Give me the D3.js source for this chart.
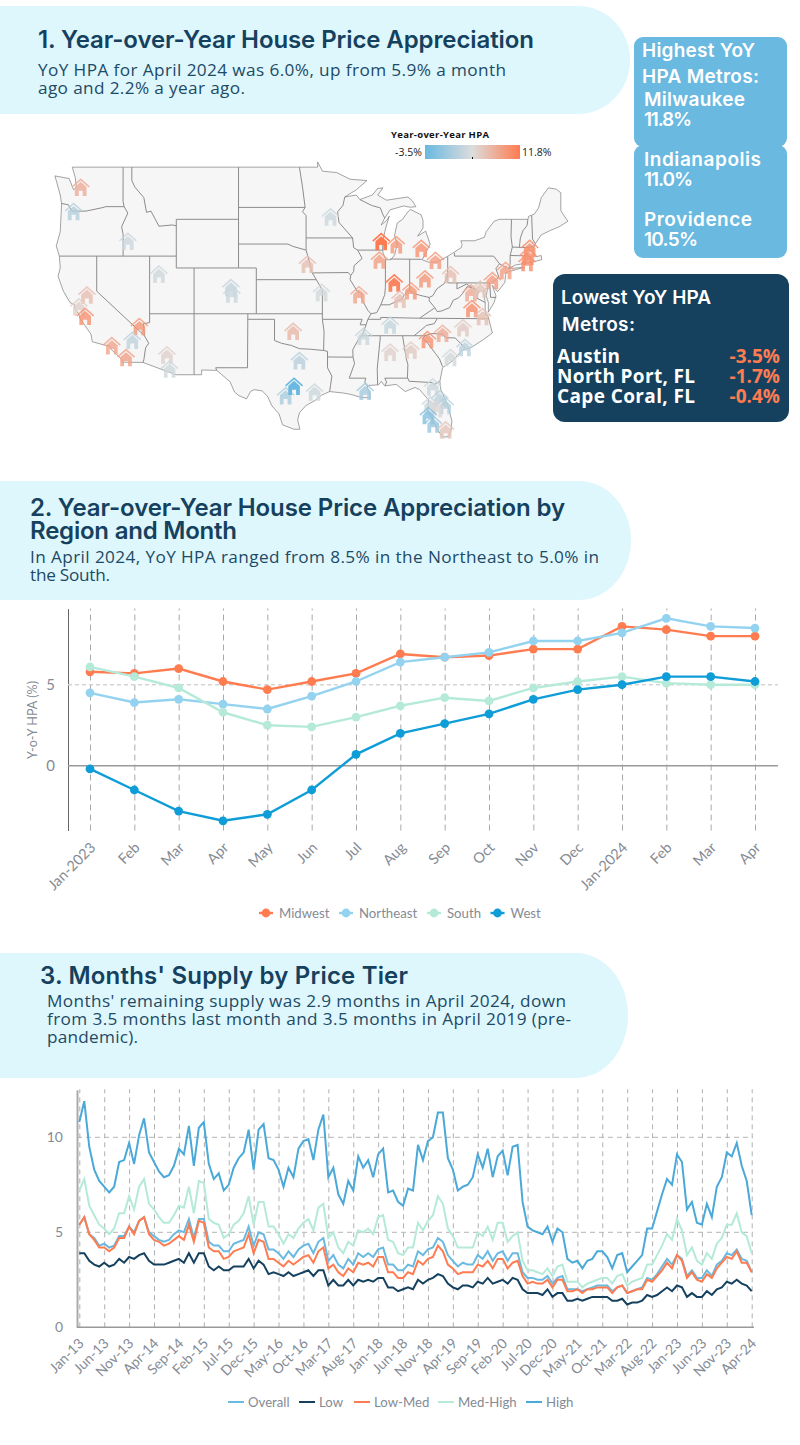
<!DOCTYPE html>
<html>
<head>
<meta charset="utf-8">
<script src="https://cdn.jsdelivr.net/npm/d3@7"></script>
<style>
  body { margin: 0; background: #fff; }
  svg { display: block; }
  .sans { font-family: 'Open Sans', sans-serif; }
  .head { font-family: Inter, sans-serif; font-weight: 600; fill: #15415e; }
  .chart text { font-family: Lato, sans-serif; fill: #858b95; }
</style>
</head>
<body>
<div id="container"></div>
<script>
// MAP DATA (lon/lat)
const metroLon = [-121.8,-122.6,-116.5,-113.0,-104.9,-104.8,-121.1,-122.0,-121.3,-115.2,-116.0,-118.3,-116.7,-112.1,-111.8,-97.9,-97.2,-98.75,-97.8,-96.3,-95.5,-93.7,-94.7,-90.5,-88.0,-86.3,-88.2,-83.5,-81.9,-86.53,-84.66,-83.08,-85.9,-80.2,-74.0,-71.3,-71.5,-71.6,-75.5,-77.9,-76.85,-77.8,-76.6,-78.8,-81.1,-82.8,-78.58,-80.2,-87.0,-90.0,-87.0,-84.66,-89.8,-82.2,-81.4,-80.8,-82.5,-81.8,-82.7,-82.15,-80.75];
const metroLat = [47.48,45.61,43.21,40.46,39.3,38.74,38.65,37.6,36.76,35.84,34.57,34.07,32.95,33.2,31.86,35.4,32.66,29.28,30.2,41.31,29.64,45.18,38.88,38.68,43.19,42.94,41.66,42.63,41.63,39.71,39.03,40.06,38.29,40.43,40.78,42.63,41.97,41.46,39.91,38.85,39.18,37.45,36.73,35.71,35.22,34.63,33.9,32.95,35.96,34.94,33.46,33.65,29.71,30.14,28.98,28.32,28.35,27.98,27.32,26.47,25.87];
const metroHpa = [8,1.5,3,3.2,2.6,3,6.5,5.2,10,9.7,2.2,8.5,8.8,5,3.2,7,1.8,0.8,-3.5,6.5,3,3,3.5,8.5,11.8,9.5,9,10,9.3,11,9.7,9.5,6.5,6.5,9,10.5,10,10.2,9.3,8,6,10.2,6.5,5.5,8,10,2,3.5,2.5,3,5,5.5,0.5,3,2,1.5,3,4.5,-1.7,-0.4,6];

const usOutline = [[-124.7,48.35],[-123.1,48.15],[-122.6,47.3],[-122.3,47.5],[-122.4,48.2],[-122.75,49],[-95.15,49],[-95.15,49.38],[-94.6,48.7],[-93,48.6],[-91.5,48.1],[-89.6,48],[-90.8,47.3],[-92.1,46.75],[-90.8,46.9],[-90.4,46.55],[-89,46.9],[-88.4,47.4],[-87.8,47.45],[-88.4,46.9],[-87.4,46.5],[-85,46.75],[-84.5,46.45],[-84.1,46],[-84.7,45.95],[-85.5,46.05],[-86.5,45.85],[-87,45.75],[-87.6,45.1],[-88,44.55],[-87.4,44.9],[-87.1,45.25],[-87.5,44.3],[-87.9,43],[-87.8,42.3],[-87.5,41.7],[-86.9,41.7],[-86.5,42.1],[-86.2,43],[-86.5,43.7],[-86.2,44.7],[-85.6,45],[-85,45.6],[-84.7,45.78],[-83.5,45.35],[-83.3,44.9],[-83.3,44.3],[-83.9,43.65],[-83,44.05],[-82.5,43],[-82.9,42.4],[-83.15,42],[-83.4,41.7],[-82.7,41.5],[-81.7,41.5],[-80.5,42],[-79,42.7],[-78.9,42.95],[-79.05,43.27],[-77.5,43.27],[-76.4,43.55],[-76.2,44],[-75.3,44.85],[-74.7,45],[-71.5,45],[-71.4,45.25],[-70.8,45.4],[-70.3,45.9],[-70,46.7],[-69.2,47.45],[-68.3,47.35],[-67.8,47.07],[-67.8,45.7],[-67.45,45.3],[-67,44.85],[-68,44.4],[-69,44.1],[-70,43.75],[-70.6,43.1],[-70.8,42.8],[-71,42.3],[-70.6,41.95],[-70,42.05],[-69.95,41.7],[-70.7,41.55],[-71.4,41.45],[-72.9,41.25],[-73.7,40.95],[-72,41.05],[-74,40.6],[-74,40.45],[-74.1,39.75],[-74.9,38.95],[-75.5,39.5],[-75.1,38.6],[-75.3,38],[-75.95,37.15],[-75.95,38],[-76.2,38.6],[-76,39.4],[-76.5,39],[-76.3,38],[-76.3,37],[-76,36.85],[-75.5,35.25],[-76.5,34.65],[-77.9,33.9],[-78.9,33.65],[-79.9,32.7],[-81.1,32],[-81.4,30.7],[-81.3,29.9],[-80.55,28.45],[-80.05,26.8],[-80.15,25.75],[-80.4,25.2],[-81.1,25.15],[-81.8,26.1],[-82.2,26.9],[-82.75,27.8],[-82.7,28.9],[-83.7,29.9],[-84.2,30.1],[-85.3,29.7],[-86.3,30.4],[-87.6,30.25],[-88,30.7],[-88.3,30.35],[-89.4,30.3],[-89.6,30.15],[-89.4,29.8],[-89.2,29.1],[-90.2,29.1],[-91.3,29.4],[-92.2,29.55],[-93.8,29.7],[-94.7,29.35],[-95.3,28.9],[-96.5,28.3],[-97.2,27.6],[-97.4,26.9],[-97.15,25.95],[-97.8,25.95],[-99.1,26.4],[-99.5,27.5],[-100.3,28.3],[-100.8,29.25],[-101.4,29.77],[-102.3,29.88],[-102.7,29.7],[-103.15,28.98],[-104,29.3],[-104.5,29.65],[-105,30.65],[-106.5,31.75],[-108.2,31.78],[-108.2,31.33],[-111.07,31.33],[-114.8,32.5],[-117.12,32.53],[-117.25,32.85],[-118.4,33.75],[-118.5,34.03],[-119.2,34.15],[-120.5,34.45],[-120.65,35.15],[-121.9,36.6],[-122,36.95],[-122.5,37.5],[-122.5,37.8],[-123,38],[-123.75,39],[-124.35,40.3],[-124.1,41],[-124.2,42],[-124.55,42.85],[-124.1,44],[-123.95,46.2],[-124.1,46.9]];

const stateBorders = [
  [[-124,46.25],[-123.2,46.15],[-122.8,45.65],[-121.2,45.65],[-119.3,45.93],[-118.98,46],[-116.92,46]],
  [[-117.03,49],[-117.04,46.42],[-116.92,46],[-116.5,45.5],[-117.2,44.4],[-117.03,43.8],[-117.03,42]],
  [[-124.2,42],[-111.05,42]],
  [[-116.05,49],[-116.05,48],[-115.7,47.5],[-114.7,46.7],[-114.4,45.55],[-113.9,45.65],[-113.45,45.05],[-113,44.45],[-111.5,44.55],[-111.05,44.48]],
  [[-111.05,45],[-111.05,41],[-104.05,41],[-104.05,49]],
  [[-111.05,45],[-104.05,45]],
  [[-114.05,42],[-114.05,36.2],[-114.75,36.1],[-114.63,35],[-114.15,34.3],[-114.5,33.9],[-114.7,32.75],[-114.8,32.5]],
  [[-120,42],[-120,39],[-114.63,35]],
  [[-114.05,37],[-94.62,37]],
  [[-109.05,41],[-109.05,31.33]],
  [[-102.05,41],[-102.05,37]],
  [[-104.05,41],[-102.05,41]],
  [[-104.05,43],[-98.5,43],[-97.9,42.8],[-96.45,42.5],[-96.1,41.6],[-95.85,40.7],[-95.3,40],[-94.62,39.1],[-94.62,36.5],[-94.43,35.4],[-94.48,33.63],[-94.04,33.55],[-94.04,31.99],[-93.55,31.2],[-93.7,30.3],[-93.8,29.7]],
  [[-104.05,45.94],[-96.56,45.94]],
  [[-102.05,40],[-95.3,40]],
  [[-103,37],[-103.04,32],[-106.62,32],[-106.5,31.75]],
  [[-103.04,36.5],[-100,36.5],[-100,34.56],[-99.2,34.3],[-98.1,34.1],[-97.2,33.8],[-96,33.75],[-94.48,33.63]],
  [[-94.04,33.02],[-91.17,33]],
  [[-94.62,36.5],[-90.15,36.5],[-90.37,36],[-89.7,36]],
  [[-95.77,40.58],[-91.73,40.61],[-91.42,40.38]],
  [[-97.2,49],[-96.85,47.5],[-96.56,45.94],[-96.85,45.6],[-96.45,45.3],[-96.45,42.5]],
  [[-96.45,43.5],[-91.22,43.5]],
  [[-92.1,46.75],[-92.3,46.1],[-92.9,45.6],[-92.75,44.75],[-91.22,43.5],[-91.1,42.7],[-90.65,42.5],[-90.15,41.8],[-91.05,41.2],[-91.1,40.7],[-91.42,40.38],[-91.5,40],[-90.7,39],[-90.15,38.75],[-90.2,38.3],[-89.5,37.3],[-89.15,37],[-89.5,36.5],[-89.7,36],[-90.1,35.1],[-90.6,34.6],[-91.2,33.7],[-91.17,33],[-91,32.4],[-91.6,31],[-89.73,31],[-89.85,30.65],[-89.55,30.2]],
  [[-90.65,42.5],[-87.8,42.5]],
  [[-90.4,46.55],[-89.1,46.1],[-88.1,45.9],[-87.8,45.35],[-87.6,45.1]],
  [[-87.53,41.7],[-87.53,39.35],[-87.6,38.7],[-88.05,37.8]],
  [[-89.15,37],[-88.5,37.1],[-88.05,37.8],[-87.1,37.8],[-86.3,38.1],[-85.7,38.3],[-85.4,38.7],[-84.8,39.1],[-84.3,38.8],[-83.7,38.65],[-82.6,38.45],[-82.2,38.6],[-81.75,39.2],[-80.85,39.7],[-80.52,40.64],[-80.52,41.98]],
  [[-84.8,39.1],[-84.8,41.76]],
  [[-87,41.76],[-83.45,41.73]],
  [[-79.76,42.27],[-79.76,42],[-75.35,42],[-74.7,41.36],[-75.1,40.95],[-74.75,40.2],[-75.45,39.8]],
  [[-74.7,41.36],[-73.9,41]],
  [[-80.52,40.64],[-80.52,39.72],[-75.79,39.72],[-75.7,38.46],[-75.05,38.45]],
  [[-79.48,39.72],[-79.48,39.2],[-78.4,39.62],[-77.75,39.3],[-77.1,38.9],[-77.25,38.4],[-76.3,38]],
  [[-82.6,38.45],[-82.6,38.15],[-81.97,37.54],[-81.7,37.2],[-81.2,37.25],[-80.3,37.55],[-79.9,38.2],[-79.3,38.42],[-78.87,38.77],[-78.35,39.4],[-77.75,39.3]],
  [[-81.97,37.54],[-83.68,36.6]],
  [[-89.5,36.5],[-88.05,36.5],[-88.05,36.67],[-83.68,36.6],[-81.68,36.59],[-75.87,36.55]],
  [[-81.68,36.59],[-82.05,36.1],[-82.9,35.95],[-84.3,35]],
  [[-90.3,35],[-83.1,35]],
  [[-83.1,35],[-82.3,35.2],[-81.05,35.15],[-80.8,34.82],[-79.68,34.8],[-78.55,33.85]],
  [[-83.1,35],[-83.35,34.7],[-82.9,34.45],[-81.9,33.35],[-81.45,32.85],[-81.1,32.1]],
  [[-85.6,35],[-85.18,32.85],[-85,32.3],[-85.05,31]],
  [[-88.2,35],[-88.1,34.9],[-88.45,31.9],[-88.4,30.35]],
  [[-87.55,30.28],[-87.4,30.65],[-87.6,31],[-85,31],[-84.86,30.7],[-82.2,30.57],[-82.05,30.36],[-81.45,30.7]],
  [[-73.35,45],[-73.4,43.6],[-73.25,42.75],[-73.5,42.05],[-73.5,41.3],[-73.65,41]],
  [[-71.5,45],[-71.6,44.5],[-72.05,44.1],[-72.35,43.5],[-72.46,42.73]],
  [[-73.27,42.75],[-71.3,42.7],[-70.8,42.87]],
  [[-73.5,42.05],[-71.38,42.02],[-71.12,41.5]],
  [[-71.8,42.02],[-71.85,41.32]],
  [[-71.08,45.3],[-70.98,43.4],[-70.7,43.08]]
];

// REGION DATA
const regionMonths = ['Jan-2023','Feb','Mar','Apr','May','Jun','Jul','Aug','Sep','Oct','Nov','Dec','Jan-2024','Feb','Mar','Apr'];
const midwest = [5.8,5.7,6.0,5.2,4.7,5.2,5.7,6.9,6.7,6.8,7.2,7.2,8.6,8.4,8.0,8.0];
const northeast = [4.5,3.9,4.1,3.8,3.5,4.3,5.2,6.4,6.7,7.0,7.7,7.7,8.2,9.1,8.6,8.5];
const south = [6.1,5.5,4.8,3.3,2.5,2.4,3.0,3.7,4.2,4.0,4.8,5.2,5.5,5.1,5.0,5.0];
const west = [-0.2,-1.5,-2.8,-3.4,-3.0,-1.5,0.7,2.0,2.6,3.2,4.1,4.7,5.0,5.5,5.5,5.2];

// MONTHS' SUPPLY DATA
const supplyTicks = ['Jan-13','Jun-13','Nov-13','Apr-14','Sep-14','Feb-15','Jul-15','Dec-15','May-16','Oct-16','Mar-17','Aug-17','Jan-18','Jun-18','Nov-18','Apr-19','Sep-19','Feb-20','Jul-20','Dec-20','May-21','Oct-21','Mar-22','Aug-22','Jan-23','Jun-23','Nov-23','Apr-24'];
const overall = [5.4,5.8,4.9,4.7,4.3,4.4,4.2,4.3,4.8,4.8,5.3,5.0,5.6,5.8,5.0,4.8,4.6,4.5,4.6,4.9,5.1,5.0,5.7,4.7,5.7,5.7,4.5,4.3,4.3,4.0,4.0,4.4,4.5,4.6,5.3,4.3,5.0,4.9,4.1,4.1,3.9,3.6,4.0,3.7,4.1,4.3,4.4,3.9,4.5,4.7,3.5,3.8,3.3,3.1,3.6,3.3,3.9,3.7,3.9,3.7,4.1,4.2,3.3,3.3,3.0,3.0,3.3,3.2,4.0,3.8,4.1,4.2,4.7,4.5,3.8,3.5,3.2,3.4,3.3,3.3,3.8,3.6,4.0,3.5,3.9,4.0,3.5,3.9,3.9,2.9,2.6,2.6,2.5,2.5,2.7,2.3,2.6,2.7,2.0,2.0,2.0,1.9,2.0,2.1,2.2,2.2,2.2,1.9,2.1,2.2,1.8,1.9,2.0,2.1,2.6,2.5,2.8,3.2,3.6,3.3,3.8,3.6,2.7,3.0,2.6,2.6,3.0,2.7,3.3,3.5,3.9,3.8,4.1,3.6,3.5,2.9];
const low = [3.9,3.9,3.5,3.3,3.2,3.4,3.2,3.3,3.6,3.4,3.7,3.6,3.8,3.9,3.5,3.3,3.3,3.3,3.4,3.5,3.6,3.4,3.9,3.4,3.9,3.9,3.2,3.0,3.2,3.0,3.0,3.2,3.2,3.2,3.6,3.1,3.5,3.3,2.8,2.9,2.8,2.7,2.9,2.7,2.8,2.9,3.0,2.7,3.0,3.0,2.2,2.5,2.2,2.2,2.5,2.2,2.5,2.4,2.5,2.4,2.6,2.6,2.1,2.1,1.9,2.0,2.1,2.0,2.5,2.3,2.5,2.6,2.8,2.7,2.3,2.1,2.0,2.2,2.2,2.1,2.4,2.3,2.6,2.3,2.4,2.5,2.3,2.6,2.5,2.0,1.8,1.8,1.8,1.7,2.0,1.6,1.8,1.8,1.4,1.4,1.5,1.4,1.5,1.6,1.6,1.6,1.6,1.4,1.4,1.5,1.2,1.3,1.3,1.4,1.7,1.6,1.7,1.9,2.1,1.9,2.2,2.1,1.6,1.8,1.6,1.6,1.9,1.7,2.0,2.1,2.4,2.3,2.5,2.3,2.2,1.9];
const lowMed = [5.4,5.8,4.9,4.6,4.2,4.2,4.0,4.2,4.7,4.7,5.3,4.9,5.6,5.8,4.9,4.6,4.5,4.3,4.4,4.6,4.8,4.6,5.4,4.5,5.6,5.5,4.2,4.0,4.0,3.6,3.7,4.0,4.1,4.2,4.9,3.9,4.6,4.5,3.6,3.6,3.4,3.2,3.5,3.3,3.5,3.7,3.8,3.4,4.0,4.2,3.1,3.3,2.9,2.7,3.1,2.9,3.4,3.3,3.4,3.2,3.7,3.7,2.9,2.9,2.6,2.6,2.9,2.8,3.5,3.3,3.6,3.7,4.3,4.0,3.3,3.1,2.8,2.9,2.9,2.9,3.3,3.2,3.5,3.1,3.6,3.6,3.1,3.4,3.5,2.7,2.3,2.4,2.3,2.3,2.5,2.1,2.5,2.5,1.9,1.9,2.0,1.8,2.0,2.0,2.1,2.1,2.1,1.8,2.1,2.2,1.8,1.9,2.0,2.0,2.5,2.4,2.7,3.0,3.4,3.1,3.8,3.5,2.6,2.9,2.5,2.4,2.8,2.6,3.1,3.4,3.7,3.6,4.0,3.4,3.4,2.9];
const medHigh = [7.2,7.8,6.4,5.9,5.4,5.2,4.9,5.2,6.0,6.0,6.9,6.2,7.4,7.8,6.5,6.2,5.8,5.5,5.5,5.9,6.4,6.3,7.4,6.0,7.7,7.6,5.7,5.5,5.4,4.7,4.9,5.4,5.6,6.0,6.9,5.4,6.6,6.6,5.3,5.3,4.9,4.4,4.9,4.7,5.2,5.5,5.7,5.1,6.3,6.5,4.7,5.0,4.2,3.9,4.5,4.3,5.1,5.0,5.2,4.9,5.8,5.9,4.6,4.5,3.9,3.8,4.2,4.2,5.5,5.1,5.6,5.9,6.9,6.5,5.2,4.8,4.2,4.2,4.2,4.2,5.0,4.8,5.3,4.6,5.5,5.5,4.5,4.8,5.0,3.5,3.0,3.0,2.9,2.8,3.1,2.7,3.2,3.3,2.4,2.4,2.4,2.1,2.3,2.4,2.5,2.6,2.6,2.3,2.7,2.8,2.2,2.4,2.5,2.6,3.3,3.3,3.8,4.3,4.9,4.6,5.7,5.1,3.8,4.2,3.5,3.3,3.9,3.6,4.4,4.7,5.4,5.4,6.0,5.0,4.8,3.9];
const high = [10.8,11.9,9.5,8.3,7.7,7.4,7.1,7.4,8.7,8.8,9.7,8.6,10.1,11.0,9.2,8.7,8.2,7.9,8.0,8.5,9.4,9.1,10.6,8.5,10.5,10.8,8.6,7.8,8.1,7.2,7.5,8.4,8.9,9.2,10.4,8.3,10.4,10.7,8.9,8.8,8.3,7.4,8.4,7.9,9.4,9.8,9.9,8.8,10.4,11.2,7.9,8.4,7.0,6.5,7.7,7.2,9.0,8.4,8.8,7.9,9.1,9.4,7.1,7.2,6.6,6.4,7.3,7.2,9.6,8.8,9.8,10.0,11.3,11.3,8.9,8.3,7.2,7.4,7.5,7.9,9.1,8.4,9.4,7.9,9.0,9.3,8.0,9.5,9.6,6.6,5.3,5.1,5.0,4.9,5.3,4.5,5.2,5.0,3.6,3.4,3.5,3.1,3.5,3.6,4.0,4.0,3.7,3.1,3.8,3.9,2.9,3.2,3.5,3.8,5.2,5.2,6.1,7.0,7.8,7.5,9.1,8.7,6.2,6.6,5.5,5.4,6.5,5.8,7.4,7.9,9.2,9.0,9.7,8.5,7.7,5.9];

const orange = '#ff7b50';
const navy = '#15415e';
const skyBlue = '#69b9e0';

const svg = d3
  .select('#container')
  .append('svg')
  .attr('width', 800)
  .attr('height', 1445);

// text helper, textLength keeps the widths of the headings
const label = (str, x, y, cls, size, width) => {
  const t = svg
    .append('text')
    .attr('class', cls)
    .attr('x', x)
    .attr('y', y)
    .style('font-size', `${size}px`)
    .text(str);
  if (width) t.attr('textLength', width);
  return t;
};

// HEADING BANNERS
const banner = (y0, y1, right) => {
  const ry = (y1 - y0) / 2;
  svg
    .append('path')
    .attr('d', `M0,${y0}H${right - 52}A52,${ry} 0 0 1 ${right - 52},${y1}H0Z`)
    .attr('fill', '#def7fd');
};
banner(6, 114, 630);
banner(481, 600, 631);
banner(953, 1078, 628);

label('1. Year-over-Year House Price Appreciation', 38, 48, 'head', 24, 496);
label('YoY HPA for April 2024 was 6.0%, up from 5.9% a month', 38, 76, 'sans', 17.2, 468).attr('fill', '#1d4a65');
label('ago and 2.2% a year ago.', 38, 94, 'sans', 17.2, 207).attr('fill', '#1d4a65');

label('2. Year-over-Year House Price Appreciation by', 30, 516, 'head', 24, 535);
label('Region and Month', 30, 539, 'head', 24, 207);
label('In April 2024, YoY HPA ranged from 8.5% in the Northeast to 5.0% in', 30, 563, 'sans', 17.2, 569).attr('fill', '#1d4a65');
label('the South.', 30, 581, 'sans', 17.2, 80).attr('fill', '#1d4a65');

label("3. Months' Supply by Price Tier", 40, 984, 'head', 24, 368);
label("Months' remaining supply was 2.9 months in April 2024, down", 47, 1007, 'sans', 17.2, 519).attr('fill', '#1d4a65');
label('from 3.5 months last month and 3.5 months in April 2019 (pre-', 47, 1025, 'sans', 17.2, 524).attr('fill', '#1d4a65');
label('pandemic).', 47, 1043, 'sans', 17.2, 91).attr('fill', '#1d4a65');

// SIDE PANELS
svg.append('rect').attr('x', 634).attr('y', 37).attr('width', 153).attr('height', 110).attr('rx', 9).attr('fill', skyBlue);
svg.append('rect').attr('x', 634).attr('y', 145).attr('width', 153).attr('height', 113).attr('rx', 9).attr('fill', skyBlue);
svg.append('rect').attr('x', 553).attr('y', 274).attr('width', 236).attr('height', 148).attr('rx', 12).attr('fill', navy);

const topMetroLines = [
  ['Highest YoY', 642, 57, 113], ['HPA Metros:', 642, 83, 117], ['Milwaukee', 644, 106, 101], ['11.8%', 644, 126, 48],
  ['Indianapolis', 644, 166, 117], ['11.0%', 644, 186, 49], ['Providence', 644, 226, 108], ['10.5%', 644, 246, 54]
];
topMetroLines.forEach(d => {
  label(d[0], d[1], d[2], 'head', 19, d[3]).style('fill', '#fff');
});

label('Lowest YoY HPA', 561, 304, 'head', 19, 150).style('fill', '#fff');
label('Metros:', 562, 331, 'head', 19, 73).style('fill', '#fff');

const lowNames = ['Austin', 'North Port, FL', 'Cape Coral, FL'];
const lowWidths = [63, 138, 138];
const lowValues = ['-3.5%', '-1.7%', '-0.4%'];
lowNames.forEach((n, i) => {
  label(n, 557, 363 + i * 20, 'sans', 19, lowWidths[i]).attr('fill', '#fff').style('font-weight', 700);
  label(lowValues[i], 780, 363 + i * 20, 'sans', 19)
    .attr('fill', orange)
    .attr('text-anchor', 'end')
    .style('font-weight', 700);
});

// MAP
const projection = d3.geoMercator().scale(509.4).translate([1163.6, 668.3]);
const mapLine = d3
  .line()
  .x(d => projection(d)[0])
  .y(d => projection(d)[1]);

svg
  .append('path')
  .attr('d', `${mapLine(usOutline)}Z`)
  .attr('fill', '#f6f6f6')
  .attr('stroke', '#7d7d7d')
  .attr('stroke-width', 0.7)
  .attr('stroke-linejoin', 'round');

svg
  .append('g')
  .selectAll('path')
  .data(stateBorders)
  .enter()
  .append('path')
  .attr('d', mapLine)
  .attr('fill', 'none')
  .attr('stroke', '#8c8c8c')
  .attr('stroke-width', 1);

const hpaColor = d3
  .scaleLinear()
  .domain([-3.5, 4.15, 11.8])
  .range([skyBlue, '#dcdcdc', orange]);

const housePath =
  'M0,-9.2L9,-1.2L8,0L0,-7L-8,0L-9,-1.2Z M0,-5.6L5.8,-0.5V8.6H2V3.2H-2V8.6H-5.8V-0.5Z';

svg
  .append('g')
  .selectAll('path')
  .data(metroHpa)
  .enter()
  .append('path')
  .attr('d', housePath)
  .attr('transform', (d, i) => {
    const p = projection([metroLon[i], metroLat[i]]);
    return `translate(${p[0]},${p[1]})`;
  })
  .attr('fill', d => hpaColor(d))
  .attr('opacity', d => (d >= 10.9 || d <= -3 ? 1 : 0.8));

// map legend
const gradient = svg
  .append('defs')
  .append('linearGradient')
  .attr('id', 'hpa-gradient');
hpaColor.domain().forEach((d, i) => {
  gradient
    .append('stop')
    .attr('offset', `${i * 50}%`)
    .attr('stop-color', hpaColor(d));
});
svg.append('rect').attr('x', 425).attr('y', 145).attr('width', 95).attr('height', 14).attr('fill', 'url(#hpa-gradient)');
svg.append('line').attr('x1', 472.5).attr('x2', 472.5).attr('y1', 157).attr('y2', 159).attr('stroke', '#111');
label('Year-over-Year HPA', 391, 138, 'sans', 9.5, 98).attr('fill', '#111').style('font-weight', 700);
label('-3.5%', 395, 156, 'sans', 10.5).attr('fill', '#222');
label('11.8%', 522, 156, 'sans', 10.5).attr('fill', '#222');

// REGION CHART
const regionNames = ['Midwest', 'Northeast', 'South', 'West'];
const regionSeries = [midwest, northeast, south, west];
const regionColors = [orange, '#94d3ef', '#b5ead9', '#0f9dd7'];

const x2 = d3.scalePoint().domain(d3.range(regionMonths.length)).range([90, 755]);
const y2 = d3.scaleLinear().domain([-4, 9.7]).range([830.5, 608.6]);

const chart2 = svg.append('g').attr('class', 'chart');

const xAxis2 = d3
  .axisBottom(x2)
  .tickSize(-222)
  .tickPadding(0)
  .tickFormat(i => regionMonths[i]);

chart2
  .append('g')
  .attr('transform', 'translate(0, 830.5)')
  .call(xAxis2)
  .call(g => g.select('.domain').remove())
  .call(g =>
    g
      .selectAll('.tick line')
      .attr('stroke', '#a9a9a9')
      .attr('stroke-dasharray', '6 4')
  )
  .call(g =>
    g
      .selectAll('.tick text')
      .attr('y', 0)
      .attr('dy', 0)
      .attr('transform', 'translate(6, 18) rotate(-45)')
      .style('text-anchor', 'end')
      .style('font-size', '14.5px')
  );

const yAxis2 = d3.axisLeft(y2).tickValues([0, 5]).tickSize(0).tickPadding(13).tickFormat(d3.format('d'));

chart2
  .append('g')
  .attr('transform', 'translate(68, 0)')
  .call(yAxis2)
  .call(g => g.select('.domain').attr('stroke', '#666'))
  .call(g => g.selectAll('.tick text').style('font-size', '15px'));

chart2
  .append('line')
  .attr('x1', 68)
  .attr('x2', 778)
  .attr('y1', y2(5))
  .attr('y2', y2(5))
  .attr('stroke', '#d4d4d4')
  .attr('stroke-width', 1.6)
  .attr('stroke-dasharray', '4 3');

chart2
  .append('line')
  .attr('x1', 68)
  .attr('x2', 778)
  .attr('y1', y2(0))
  .attr('y2', y2(0))
  .attr('stroke', '#9a9a9a')
  .attr('stroke-width', 1.6);

chart2
  .append('text')
  .attr('transform', 'translate(37, 720) rotate(-90)')
  .attr('text-anchor', 'middle')
  .attr('textLength', 78)
  .style('font-size', '12.5px')
  .text('Y-o-Y HPA (%)');

const line2 = d3
  .line()
  .x((d, i) => x2(i))
  .y(d => y2(d));

regionSeries.forEach((values, s) => {
  chart2
    .append('path')
    .attr('d', line2(values))
    .attr('fill', 'none')
    .attr('stroke', regionColors[s])
    .attr('stroke-width', 2.4);

  chart2
    .append('g')
    .selectAll('circle')
    .data(values)
    .enter()
    .append('circle')
    .attr('cx', (d, i) => x2(i))
    .attr('cy', d => y2(d))
    .attr('r', 4.4)
    .attr('fill', regionColors[s]);
});

const regionLegendX = [266, 346, 434, 497.5];
regionNames.forEach((n, i) => {
  const lg = chart2.append('g').attr('transform', `translate(${regionLegendX[i]}, 913)`);
  lg.append('line').attr('x1', -7).attr('x2', 7).attr('stroke', regionColors[i]).attr('stroke-width', 2.4);
  lg.append('circle').attr('r', 4.4).attr('fill', regionColors[i]);
  lg.append('text').attr('x', 13).attr('y', 4.5).style('font-size', '13.2px').text(n);
});

// SUPPLY CHART
const supplyNames = ['Overall', 'Low', 'Low-Med', 'Med-High', 'High'];
const supplySeries = [overall, low, lowMed, medHigh, high];
const supplyColors = [skyBlue, navy, orange, '#b5ead9', '#4aa9d8'];

const x3 = d3.scaleLinear().domain([0, overall.length - 1]).range([79.3, 751.7]);
const y3 = d3.scaleLinear().domain([0, 12.5]).range([1327.3, 1089.8]);

const chart3 = svg.append('g').attr('class', 'chart');

const xAxis3 = d3
  .axisBottom(x3)
  .tickValues(d3.range(0, overall.length, 5))
  .tickSize(-238)
  .tickPadding(0)
  .tickFormat((d, i) => supplyTicks[i]);

chart3
  .append('g')
  .attr('transform', 'translate(0, 1327.3)')
  .call(xAxis3)
  .call(g => g.select('.domain').remove())
  .call(g =>
    g
      .selectAll('.tick line')
      .attr('stroke', '#b0b0b0')
      .attr('stroke-dasharray', '5 4')
  )
  .call(g =>
    g
      .selectAll('.tick text')
      .attr('y', 0)
      .attr('dy', 0)
      .attr('transform', 'translate(5, 17) rotate(-45)')
      .style('text-anchor', 'end')
      .style('font-size', '14px')
  );

const yAxis3 = d3.axisLeft(y3).tickValues([0, 5, 10]).tickSize(0).tickPadding(14).tickFormat(d3.format('d'));

chart3
  .append('g')
  .attr('transform', 'translate(77, 0)')
  .call(yAxis3)
  .call(g => g.select('.domain').attr('stroke', '#aaa').attr('stroke-width', 2))
  .call(g => g.selectAll('.tick text').style('font-size', '14px'));

[5, 10].forEach(v => {
  chart3
    .append('line')
    .attr('x1', 77)
    .attr('x2', 753)
    .attr('y1', y3(v))
    .attr('y2', y3(v))
    .attr('stroke', '#b5b5b5')
    .attr('stroke-dasharray', '5 4');
});

chart3
  .append('line')
  .attr('x1', 77)
  .attr('x2', 754)
  .attr('y1', y3(0))
  .attr('y2', y3(0))
  .attr('stroke', '#999')
  .attr('stroke-width', 1.4);

const line3 = d3
  .line()
  .x((d, i) => x3(i))
  .y(d => y3(d));

supplySeries.forEach((values, s) => {
  chart3
    .append('path')
    .attr('d', line3(values))
    .attr('fill', 'none')
    .attr('stroke', supplyColors[s])
    .attr('stroke-width', 2);
});

const supplyLegendX = [228, 299, 354, 438, 526];
supplyNames.forEach((n, i) => {
  const lg = chart3.append('g').attr('transform', `translate(${supplyLegendX[i]}, 1402)`);
  lg.append('line').attr('x2', 16).attr('stroke', supplyColors[i]).attr('stroke-width', 2);
  lg.append('text').attr('x', 20).attr('y', 4.5).style('font-size', '13.2px').text(n);
});
</script>
</body>
</html>
